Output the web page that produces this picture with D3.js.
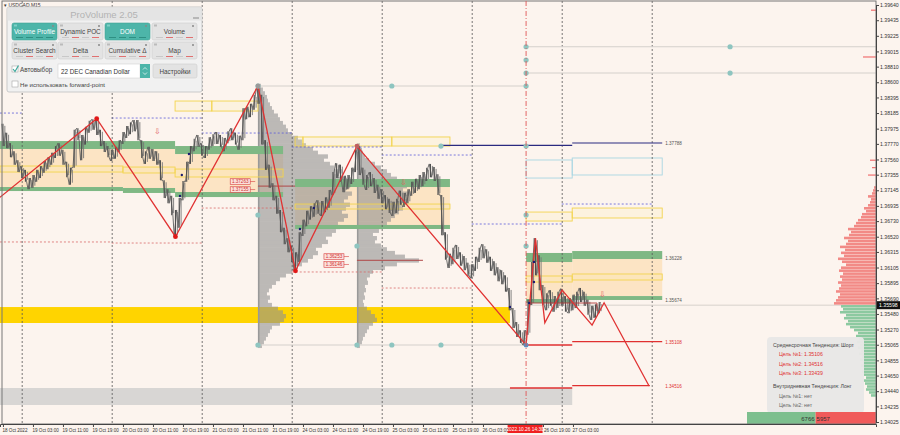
<!DOCTYPE html>
<html><head><meta charset="utf-8">
<script src="https://cdnjs.cloudflare.com/ajax/libs/d3/7.8.5/d3.min.js"></script>
<style>body{margin:0;background:#fcf4ee;}svg{display:block;font-family:"Liberation Sans",Arial,sans-serif;}</style>
</head><body><svg id="c" width="900" height="435"></svg>
<script>
// ---------- DATA ----------
const priceTicks=[1.39640,1.39435,1.39225,1.39015,1.38810,1.38600,1.38395,1.38185,1.37975,1.37770,1.37560,1.37355,1.37145,1.36935,1.36730,1.36520,1.36315,1.36105,1.35895,1.35690,1.35480,1.35270,1.35065,1.34855,1.34650,1.34440,1.34235,1.34025];
const timeTickIdx=[0,8,16,24,32,40,48,56,64,72,80,88,96,104,112,120,128,136,144,152];
const timeLabels=["18 Oct 2022","19 Oct 03:00","19 Oct 11:00","19 Oct 19:00","20 Oct 03:00","20 Oct 11:00","20 Oct 19:00","21 Oct 03:00","21 Oct 11:00","21 Oct 19:00","24 Oct 03:00","24 Oct 11:00","24 Oct 19:00","25 Oct 03:00","25 Oct 11:00","25 Oct 19:00","26 Oct 03:00","26 Oct 11:00","26 Oct 19:00","27 Oct 03:00"];
const daySeparators=[5,29,53,77,101,125,149,173];
// hourly bars (index 0 = 18 Oct 19:00)
const highs=[1.3804,1.3792,1.3778,1.3767,1.3755,1.3747,1.3742,1.3731,1.3735,1.3742,
1.3747,1.3754,1.3759,1.3765,1.3774,1.3778,1.3769,1.3753,1.3745,1.3796,
1.3798,1.3789,1.3800,1.3808,1.3810,1.3809,1.3796,1.3781,1.3774,1.3769,
1.3773,1.3782,1.3793,1.3801,1.3806,1.3809,1.3809,1.3782,1.3767,1.3773,
1.3770,1.3767,1.3755,1.3728,1.3716,1.3707,1.3688,1.3704,1.3727,1.3753,
1.3774,1.3784,1.3789,1.3778,1.3774,1.3786,1.3790,1.3793,1.3789,1.3785,
1.3794,1.3798,1.3792,1.3788,1.3825,1.3827,1.3831,1.3843,1.3855,1.3843,
1.3782,1.3749,1.3724,1.3707,1.3688,1.3664,1.3650,1.3640,1.3631,1.3658,
1.3675,1.3687,1.3693,1.3697,1.3701,1.3700,1.3705,1.3715,1.3739,1.3751,
1.3749,1.3734,1.3735,1.3745,1.3769,1.3774,1.3745,1.3735,1.3739,1.3731,
1.3722,1.3716,1.3708,1.3703,1.3699,1.3703,1.3714,1.3711,1.3716,1.3726,
1.3730,1.3735,1.3739,1.3745,1.3750,1.3746,1.3736,1.3708,1.3658,1.3629,
1.3637,1.3641,1.3631,1.3626,1.3617,1.3615,1.3625,1.3637,1.3642,1.3635,
1.3625,1.3619,1.3611,1.3607,1.3600,1.3583,1.3556,1.3537,1.3526,1.3526,
1.3567,1.3618,1.3650,1.3627,1.3587,1.3576,1.3580,1.3572,1.3578,1.3582,
1.3572,1.3569,1.3574,1.3578,1.3583,1.3578,1.3567,1.3559,1.3561,1.3564];
const lows=[1.3774,1.3771,1.3759,1.3749,1.3739,1.3731,1.3726,1.3716,1.3718,1.3726,
1.3731,1.3738,1.3743,1.3749,1.3758,1.3761,1.3749,1.3732,1.3722,1.3745,
1.3782,1.3755,1.3776,1.3792,1.3796,1.3789,1.3774,1.3766,1.3759,1.3754,
1.3757,1.3766,1.3777,1.3785,1.3790,1.3794,1.3782,1.3758,1.3750,1.3757,
1.3754,1.3749,1.3728,1.3704,1.3697,1.3681,1.3652,1.3664,1.3701,1.3726,
1.3750,1.3767,1.3773,1.3761,1.3758,1.3769,1.3774,1.3777,1.3773,1.3767,
1.3778,1.3782,1.3776,1.3769,1.3782,1.3810,1.3813,1.3823,1.3831,1.3776,
1.3742,1.3718,1.3701,1.3683,1.3658,1.3642,1.3631,1.3618,1.3606,1.3618,
1.3653,1.3666,1.3675,1.3679,1.3683,1.3680,1.3685,1.3691,1.3708,1.3731,
1.3726,1.3712,1.3716,1.3723,1.3739,1.3735,1.3722,1.3715,1.3720,1.3711,
1.3703,1.3697,1.3689,1.3684,1.3680,1.3684,1.3695,1.3692,1.3697,1.3707,
1.3711,1.3716,1.3720,1.3727,1.3732,1.3727,1.3708,1.3654,1.3621,1.3610,
1.3615,1.3622,1.3613,1.3607,1.3599,1.3596,1.3606,1.3618,1.3623,1.3617,
1.3606,1.3600,1.3592,1.3588,1.3578,1.3553,1.3529,1.3517,1.3509,1.3506,
1.3520,1.3560,1.3600,1.3580,1.3560,1.3553,1.3559,1.3551,1.3556,1.3559,
1.3551,1.3549,1.3553,1.3556,1.3564,1.3559,1.3547,1.3540,1.3543,1.3549];
const currentPrice=1.35598;
// zigzag trend
const zigTime=[-0.8,25,46,68,78,94.4,139.5,142,144.5,149.1,157.1,160.3,172.3];
const zigPrice=[1.3705,1.3811,1.3652,1.3855,1.3606,1.3774,1.3506,1.3650,1.3536,1.3580,1.3533,1.3563,1.3451];
// session zones
const zoneStart=[-0.8,32,45.9,77.9,139.5,151.8];
const zoneEnd=[32,45.9,74.7,119.2,151.8,175.8];
const greenUpHi=[1.37808,1.37808,1.37741,1.37297,1.36301,1.36327];
const greenUpLo=[1.37701,1.37701,1.37633,1.37189,1.36179,1.36220];
const greenLoHi=[1.37189,1.37176,1.37122,1.36678,1.35681,1.35721];
const greenLoLo=[1.37135,1.37109,1.37054,1.36624,1.35627,1.35668];
const midBoxHi=[1.37472,1.37458,1.37431,1.36960,1.35991,1.36018];
const midBoxLo=[1.37391,1.37378,1.37324,1.36893,1.35910,1.35937];
const upBoxStart=[45.9,55.7,77.9,80,103.7,139.5,151.8];
const upBoxEnd=[55.7,68,80,103.7,119.2,151.8,175.8];
const upBoxHi=[1.38347,1.38347,1.37863,1.37863,1.37863,1.36852,1.36906];
const upBoxLo=[1.38212,1.38212,1.37741,1.37741,1.37741,1.36731,1.36772];
const blueBoxStart=[139.5,151.8], blueBoxEnd=[151.8,175.8], blueBoxHi=[1.37553,1.37580], blueBoxLo=[1.37310,1.37351];
const pocBandStart=-0.8, pocBandEnd=135.2, pocBandHi=1.35573, pocBandLo=1.35358;
const greyBandStart=-0.8, greyBandEnd=151.8, greyBandHi=1.34483, greyBandLo=1.34254;
// previous day high / low
const prevHighStart=[-0.8,29,53,77,101,125,149], prevHighEnd=[5,53,77,101,125,149,173];
const prevHigh=[1.38185,1.38118,1.37916,1.37728,1.37620,1.36691,1.36960];
const prevLowStart=[-0.8,29,53,77,101], prevLowEnd=[29,53,77,101,125];
const prevLow=[1.36449,1.36435,1.36906,1.36045,1.35829];
// volume profiles (step 0.0005)
const profStep=0.0005;
const profAStart=1.3505, profATime=68;
const profAVol=[4,6,8,10,12,14,22,26,28,25,20,14,10,12,9,11,14,18,22,28,34,38,44,50,55,60,58,64,70,68,74,78,82,80,86,90,84,88,92,86,90,94,88,92,85,88,80,84,76,72,66,70,60,55,48,44,40,34,30,28,25,22,20,16,14,12,10,9,7,5,3];
const profBStart=1.3505, profBTime=94.4;
const profBVol=[3,5,6,8,10,12,16,20,18,14,10,7,6,8,7,9,8,11,10,13,16,28,40,62,48,38,30,24,18,20,16,22,26,30,34,38,42,46,44,50,48,52,46,50,44,40,34,30,24,18,12,8,6,4,3];
const pocA=1.3720, pocB=1.3620;
// levels, markers
const greyLineStart=[68,139.5,139.5,68], greyLineEnd=[139.5,232.8,232.8,139.5], greyLinePrice=[1.38549,1.39078,1.38724,1.35062];
const tealTime=[68,103.7,139.5,139.5,139.5,139.5,193.9,193.9,68,94.4,139.5,139.5,116.8,139.5,68,94.4,103.7,116.8];
const tealPrice=[1.38549,1.38549,1.38549,1.39078,1.38899,1.38724,1.39078,1.38724,1.36812,1.36395,1.36812,1.36395,1.37741,1.37741,1.35062,1.35062,1.35062,1.35062];
const navyStart=[116.8,151.8], navyEnd=[151.8,175.8], navyPrice=[1.37749,1.37782];
const targetStart=[139.5,151.8,135.2,151.8], targetEnd=[151.8,175.8,151.8,172.5], targetPrice=[1.35062,1.35108,1.34483,1.34516];
const levelLabels=[["1.37788",1.37782,"#555"],["1.36228",1.36228,"#555"],["1.35674",1.35674,"#555"],["1.35108",1.35108,"#e03030"],["1.34516",1.34516,"#e03030"]];
const markTime=[47.7,47.2,49.6,79.2,82.9,141.6,141.6,140.3,135.2];
const markPrice=[1.37351,1.37068,1.37633,1.36624,1.36906,1.36179,1.35910,1.35627,1.35573];
const tagTime=[60.6,60.6,85.6,85.6], tagPrice=[1.37263,1.37155,1.36253,1.36146];
const arrowTime=[41.2,106.7,160], arrowPrice=[1.37943,1.37256,1.35748];
// DOM (step 0.0004)
const askStart=1.3562;
const askVol=[42,40,38,36,40,37,35,38,34,36,33,37,35,30,34,38,32,35,31,36,30,28,32,27,25,28,22,20,18,15,14,10,12,8,6,5,8,4,3,2];
const farAskPrice=[1.3957,1.3894,1.3755,1.3745,1.3735];
const farAskVol=[5,13,6,4,8];
const bidStart=1.3558;
const bidVol=[35,33,36,30,32,28,30,26,22,18,20,17,19,16,18,15,17,14,16,13,15,12,14,12,10,13,11,9,10,7,5];
const bidTotal=6766, askTotal=5957;
const crossTime=139.5, crossLabel="2022.10.26 14:30";

// ---------- SCALES ----------
const svg=d3.select('#c');
const x=d3.scaleLinear().domain([-0.787,232.81]).range([0,876]);
const y=d3.scaleLinear().domain([1.34025,1.39640]).range([422,5]);
const volW=d3.scaleLinear().domain([0,100]).range([0,100]);
const domW=d3.scaleLinear().domain([0,50]).range([0,50]);

svg.append('rect').attr('width',900).attr('height',435).attr('fill','#fcf4ee');
const g=svg.append('g');
function rect(t0,t1,p0,p1,fill,stroke,sw){
  return g.append('rect').attr('x',x(t0)).attr('width',x(t1)-x(t0))
   .attr('y',y(Math.max(p0,p1))).attr('height',Math.abs(y(p0)-y(p1)))
   .attr('fill',fill||'none').attr('stroke',stroke||'none').attr('stroke-width',sw||1);
}
function hline(t0,t1,p,stroke,sw,dash){
  return g.append('line').attr('x1',x(t0)).attr('x2',x(t1)).attr('y1',y(p)).attr('y2',y(p))
   .attr('stroke',stroke).attr('stroke-width',sw||1).attr('stroke-dasharray',dash||null);
}
rect(greyBandStart,greyBandEnd,greyBandHi,greyBandLo,'#d8d6d4');
zoneStart.forEach((s,k)=>rect(s,zoneEnd[k],greenUpLo[k],greenLoHi[k],'#fce4c4'));
rect(pocBandStart,pocBandEnd,pocBandHi,pocBandLo,'#ffd400');
function profile(start,time,vols,col){
  const pg=g.append('g').attr('opacity',0.6);
  vols.forEach((v,k)=>{
    const p=start+k*profStep;
    pg.append('rect').attr('x',x(time)).attr('width',volW(v))
     .attr('y',y(p+profStep/2)-0.3).attr('height',y(p-profStep/2)-y(p+profStep/2)+0.6)
     .attr('fill',col);
  });
}
profile(profAStart,profATime,profAVol,'#929292');
profile(profBStart,profBTime,profBVol,'#929292');
g.append('rect').attr('x',x(profATime)).attr('width',1.5).attr('y',y(1.3855)).attr('height',y(1.3506)-y(1.3855)).attr('fill','#999');
g.append('rect').attr('x',x(profBTime)).attr('width',1.5).attr('y',y(1.3774)).attr('height',y(1.3506)-y(1.3774)).attr('fill','#999');
g.append('line').attr('x1',x(profATime)).attr('x2',x(profATime)+volW(d3.max(profAVol))+10).attr('y1',y(pocA)).attr('y2',y(pocA)).attr('stroke','#b04848').attr('stroke-width',1.2).attr('opacity',0.8);
g.append('line').attr('x1',x(profBTime)).attr('x2',x(profBTime)+volW(d3.max(profBVol))+4).attr('y1',y(pocB)).attr('y2',y(pocB)).attr('stroke','#b04848').attr('stroke-width',1.2).attr('opacity',0.8);
zoneStart.forEach((s,k)=>{rect(s,zoneEnd[k],greenUpHi[k],greenUpLo[k],'#7fb884');rect(s,zoneEnd[k],greenLoHi[k],greenLoLo[k],'#7fb884');});
zoneStart.forEach((s,k)=>rect(s,zoneEnd[k],midBoxHi[k],midBoxLo[k],'rgba(255,235,140,0.15)','#f3d44e',0.9));
upBoxStart.forEach((s,k)=>rect(s,upBoxEnd[k],upBoxHi[k],upBoxLo[k],'rgba(255,235,140,0.15)','#f3d44e',0.9));
blueBoxStart.forEach((s,k)=>rect(s,blueBoxEnd[k],blueBoxHi[k],blueBoxLo[k],'none','#a9d6e2',0.9));
prevHighStart.forEach((s,k)=>hline(s,prevHighEnd[k],prevHigh[k],'#5a5ad8',0.8,'2,2'));
prevLowStart.forEach((s,k)=>hline(s,prevLowEnd[k],prevLow[k],'#d86a6a',0.8,'2,2'));
daySeparators.forEach(d=>g.append('line').attr('x1',x(d)+0.5).attr('x2',x(d)+0.5).attr('y1',1).attr('y2',424).attr('stroke','#555').attr('stroke-width',0.8).attr('stroke-dasharray','2,2'));
greyLineStart.forEach((s,k)=>hline(s,greyLineEnd[k],greyLinePrice[k],'#d4d0cc',1));
hline(139.5,232.8,currentPrice,'#d8d2cc',1);
navyStart.forEach((s,k)=>hline(s,navyEnd[k],navyPrice[k],'#2a2a80',1.2));
targetStart.forEach((s,k)=>hline(s,targetEnd[k],targetPrice[k],'#e03030',1.3));
levelLabels.forEach(l=>g.append('text').attr('x',x(175.8)+3).attr('y',y(l[1])+2).attr('font-size',4.6).attr('fill',l[2]).text(l[0]));
// price bars
const bx=i=>x(i);
let pth='';
highs.forEach((h,i)=>{
  const mid=(h+lows[i])/2, nmid=i<highs.length-1?(highs[i+1]+lows[i+1])/2:mid;
  const a=nmid<mid?h:lows[i], b=nmid<mid?lows[i]:h;
  pth+=(i===0?'M':'L')+(bx(i)-1.2)+','+y(a)+'L'+(bx(i)+1.2)+','+y(b);
});
g.append('path').attr('d',pth).attr('fill','none').attr('stroke','#5e5e5e').attr('stroke-width',0.9);
highs.forEach((h,i)=>{
  g.append('line').attr('x1',bx(i)).attr('x2',bx(i)).attr('y1',y(h)).attr('y2',y(lows[i])).attr('stroke','#505050').attr('stroke-width',1.1);
  g.append('line').attr('x1',bx(i)+1.9).attr('x2',bx(i)+1.9).attr('y1',y(h)+2).attr('y2',y(lows[i])-2).attr('stroke','#777').attr('stroke-width',0.9);
});
g.append('path').attr('d',`M${x(140.5)},${y(1.35627)}L${x(158.4)},${y(1.35627)}L${x(158.4)},${y(1.35519)}`).attr('fill','none').attr('stroke','#b03a3a').attr('stroke-width',0.9);
g.append('path').attr('d',d3.line().x(d=>x(d[0])).y(d=>y(d[1]))(zigTime.map((t,k)=>[t,zigPrice[k]])))
 .attr('fill','none').attr('stroke','#e03232').attr('stroke-width',1.3);
tealTime.forEach((t,k)=>g.append('circle').attr('cx',x(t)).attr('cy',y(tealPrice[k])).attr('r',2.6).attr('fill','#8ec5c0'));
[[25,1.3811,'#e01818'],[46,1.3652,'#e01818'],[68,1.3855,'#9a9a9a'],[78,1.3606,'#e01818'],[94.4,1.3774,'#c06060'],[139.5,1.3506,'#5b8fc0']].forEach(d=>
  g.append('circle').attr('cx',x(d[0])).attr('cy',y(d[1])).attr('r',2.4).attr('fill',d[2]));
markTime.forEach((t,k)=>g.append('circle').attr('cx',x(t)).attr('cy',y(markPrice[k])).attr('r',1.2).attr('fill','#1a1a70'));
tagTime.forEach((t,k)=>{
  const xx=x(t),yy=y(tagPrice[k]);
  g.append('rect').attr('x',xx).attr('y',yy-2.8).attr('width',20).attr('height',5.6).attr('fill','#fbe0dc').attr('stroke','#d84040').attr('stroke-width',0.6);
  g.append('text').attr('x',xx+10).attr('y',yy+1.7).attr('text-anchor','middle').attr('font-size',4.6).attr('fill','#d03030').text(tagPrice[k].toFixed(5));
  g.append('line').attr('x1',xx+20).attr('x2',xx+25).attr('y1',yy).attr('y2',yy).attr('stroke','#d84040').attr('stroke-width',0.6);
});
arrowTime.forEach((t,k)=>g.append('text').attr('x',x(t)).attr('y',y(arrowPrice[k])+3).attr('text-anchor','middle').attr('font-size',8).attr('fill','#e06060').text('⇩'));

// DOM
const dom=svg.append('g');
const stepD=0.0004;
askVol.forEach((v,k)=>{const p=askStart+k*stepD;dom.append('rect').attr('x',876-domW(v)).attr('width',domW(v)).attr('y',y(p+stepD/2)).attr('height',y(p-stepD/2)-y(p+stepD/2)-0.4).attr('fill','#f28a86');});
farAskPrice.forEach((p,k)=>dom.append('rect').attr('x',876-domW(farAskVol[k])).attr('width',domW(farAskVol[k])).attr('y',y(p)-0.6).attr('height',1.2).attr('fill','#f07070'));
bidVol.forEach((v,k)=>{const p=bidStart-k*stepD;dom.append('rect').attr('x',876-domW(v)).attr('width',domW(v)).attr('y',y(p+stepD/2)).attr('height',y(p-stepD/2)-y(p+stepD/2)-0.4).attr('fill','#8cc9a0');});
// info box (drawn above DOM)
const ib=svg.append('g');
ib.append('rect').attr('x',767).attr('y',337).attr('width',97).attr('height',76).attr('rx',4).attr('fill','#e8e7e6').attr('opacity',0.97);
const infoLines=[["Среднесрочная Тенденция: Шорт",773,347,"#444"],["Цель №1: 1.35106",779,356,"#e03030"],["Цель №2: 1.34516",779,365.5,"#e03030"],["Цель №3: 1.33439",779,375,"#e03030"],["Внутридневная Тенденция: Лонг",773,388,"#444"],["Цель №1: нет",779,397.5,"#666"],["Цель №2: нет",779,407,"#666"]];
infoLines.forEach(l=>ib.append('text').attr('x',l[1]).attr('y',l[2]).attr('font-size',5.2).attr('fill',l[3]).text(l[0]));
const totW=d3.scaleLinear().domain([0,bidTotal+askTotal]).range([0,129]);
const tot=svg.append('g');
tot.append('rect').attr('x',876-totW(bidTotal+askTotal)).attr('y',412).attr('width',totW(bidTotal)).attr('height',12).attr('fill','#7dbf8e');
tot.append('rect').attr('x',876-totW(askTotal)).attr('y',412).attr('width',totW(askTotal)).attr('height',12).attr('fill','#f05a5a');
tot.append('text').attr('x',876-totW(askTotal)-1).attr('y',420.5).attr('text-anchor','end').attr('font-size',6).attr('fill','#333').text(bidTotal);
tot.append('text').attr('x',876-totW(askTotal)+1).attr('y',420.5).attr('font-size',6).attr('fill','#333').text(askTotal);

// frame & axes
svg.append('rect').attr('x',2).attr('y',1).attr('width',874).attr('height',423).attr('fill','none').attr('stroke','#777').attr('stroke-width',1);
const ay=svg.append('g').attr('transform','translate(876,0)').call(d3.axisRight(y).tickValues(priceTicks).tickSize(3).tickFormat(d3.format('.5f')));
ay.selectAll('text').attr('font-size',5.2).attr('fill','#333').attr('x',4);
ay.selectAll('line,path').attr('stroke','#444');
const boxL=x(crossTime)-18.5, boxR=x(crossTime)+16.5;
const ax=svg.append('g').attr('transform','translate(0,424)').call(d3.axisBottom(x).tickValues(timeTickIdx).tickSize(3).tickFormat((d,k)=>timeLabels[k]));
ax.selectAll('text').attr('font-size',4.6).attr('fill','#333').attr('text-anchor','start').attr('dx',-1).attr('y',5);
// labels hidden under the crosshair time box in the reference
ax.selectAll('.tick').filter(d=>x(d)>boxL-20 && x(d)<boxR-2).select('text').remove();
ax.selectAll('.tick').filter(d=>x(d)>=boxR-2 && x(d)<boxR+4).select('text').attr('dx',0.5);
ax.selectAll('line,path').attr('stroke','#444');
svg.append('line').attr('x1',x(crossTime)).attr('x2',x(crossTime)).attr('y1',1).attr('y2',424).attr('stroke','#e05555').attr('stroke-width',0.9).attr('stroke-dasharray','5,2,1,2');
svg.append('rect').attr('x',boxL).attr('y',425).attr('width',boxR-boxL).attr('height',8).attr('fill','#f02020');
svg.append('text').attr('x',(boxL+boxR)/2).attr('y',431).attr('text-anchor','middle').attr('font-size',4.8).attr('fill','#fff').text(crossLabel);
svg.append('rect').attr('x',877).attr('y',y(currentPrice)-4).attr('width',23).attr('height',8).attr('fill','#111');
svg.append('text').attr('x',879).attr('y',y(currentPrice)+2).attr('font-size',5.2).attr('fill','#fff').text(currentPrice.toFixed(5));
svg.append('text').attr('x',4).attr('y',6.5).attr('font-size',5).attr('fill','#333').text('▾ USDCAD,M15');

// ---------- ProVolume panel ----------
const pn=svg.append('g');
pn.append('rect').attr('x',7).attr('y',7).attr('width',195).attr('height',85).attr('rx',2).attr('fill','#f1f1f1').attr('stroke','#c9c9c9');
pn.append('rect').attr('x',7.5).attr('y',7.5).attr('width',194).attr('height',13).attr('fill','#e4e4e4');
pn.append('text').attr('x',104).attr('y',17.5).attr('text-anchor','middle').attr('font-size',9.5).attr('fill','#b3b3b3').text('ProVolume 2.05');
pn.append('line').attr('x1',193).attr('x2',199).attr('y1',18).attr('y2',18).attr('stroke','#999').attr('stroke-width',1.2);
const buttons=[["Volume Profile",12,23,true],["Dynamic POC",58,23,false],["DOM",105,23,true],["Volume",152,23,false],
["Cluster Search",12,42,false],["Delta",58,42,false],["Cumulative Δ",105,42,false],["Map",152,42,false]];
buttons.forEach(b=>{
  const bg=pn.append('g');
  bg.append('rect').attr('x',b[1]).attr('y',b[2]).attr('width',45).attr('height',17).attr('rx',2)
    .attr('fill',b[3]?'#4db5a9':'#e3e3e3').attr('stroke',b[3]?'#41a195':'#cdcdcd').attr('stroke-width',0.6);
  bg.append('text').attr('x',b[1]+22.5).attr('y',b[2]+10.5).attr('text-anchor','middle').attr('font-size',6.4).attr('fill',b[3]?'#fff':'#444').text(b[0]);
  bg.append('circle').attr('cx',b[1]+41).attr('cy',b[2]+3).attr('r',1).attr('fill','#888');
  bg.append('rect').attr('x',b[1]+2).attr('y',b[2]+1.5).attr('width',3).attr('height',2).attr('fill',b[3]?'#7fd0c6':'#bbb');
  for(let s=0;s<4;s++) bg.append('rect').attr('x',b[1]+4+s*10).attr('y',b[2]+14).attr('width',7).attr('height',1).attr('fill',b[3]?'#2f8f83':(s%2?'#e07070':'#c8c8c8'));
});
pn.append('rect').attr('x',12).attr('y',66).attr('width',6).attr('height',6).attr('fill','#fff').attr('stroke','#999').attr('stroke-width',0.5);
pn.append('path').attr('d','M13,69 L15,71.5 L18.5,65.5').attr('fill','none').attr('stroke','#3aa89b').attr('stroke-width',1.2);
pn.append('text').attr('x',20).attr('y',72).attr('font-size',6.3).attr('fill','#444').text('Автовыбор');
pn.append('rect').attr('x',58).attr('y',64).attr('width',82).attr('height',14).attr('fill','#fff').attr('stroke','#ccc').attr('stroke-width',0.5);
pn.append('text').attr('x',61).attr('y',73.5).attr('font-size',6.3).attr('fill','#333').text('22 DEC Canadian Dollar');
pn.append('rect').attr('x',140).attr('y',64).attr('width',10).attr('height',14).attr('fill','#4db5a9');
pn.append('path').attr('d','M143,69.5 L145,67.5 L147,69.5 M143,72.5 L145,74.5 L147,72.5').attr('fill','none').attr('stroke','#fff').attr('stroke-width',0.7);
pn.append('rect').attr('x',153).attr('y',64).attr('width',44).attr('height',14).attr('rx',2).attr('fill','#e3e3e3').attr('stroke','#cdcdcd').attr('stroke-width',0.6);
pn.append('text').attr('x',175).attr('y',73.5).attr('text-anchor','middle').attr('font-size',6.3).attr('fill','#444').text('Настройки');
pn.append('rect').attr('x',12).attr('y',81).attr('width',6).attr('height',6).attr('fill','#fff').attr('stroke','#999').attr('stroke-width',0.5);
pn.append('text').attr('x',20).attr('y',86.5).attr('font-size',6.1).attr('fill','#444').text('Не использовать forward-point');
</script></body></html>
